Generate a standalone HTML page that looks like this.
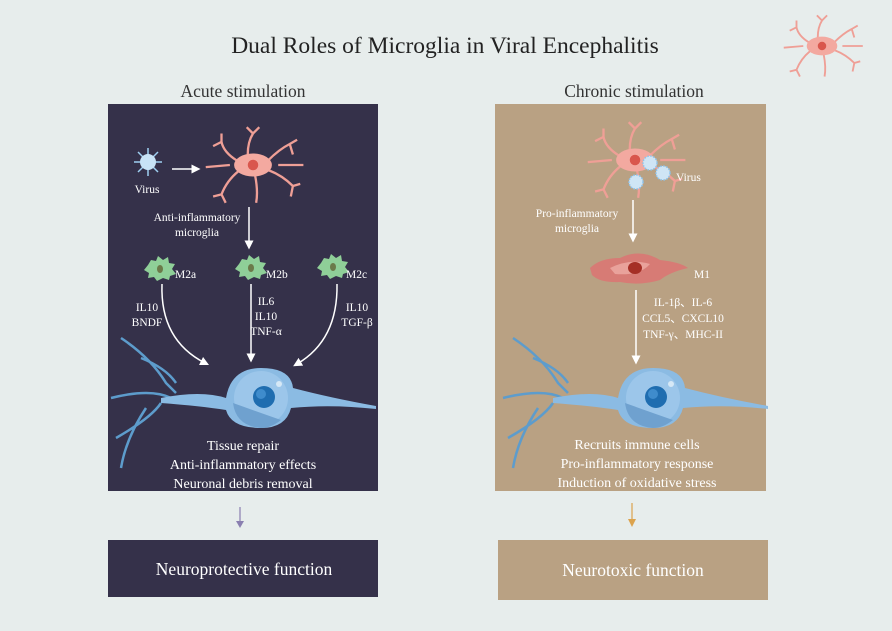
<!DOCTYPE html>
<html><head><meta charset="utf-8"><style>
body{margin:0;background:#e7edec;}
svg{display:block;font-family:"Liberation Serif",serif;}
</style></head><body>
<svg width="892" height="631" viewBox="0 0 892 631" xmlns="http://www.w3.org/2000/svg">
<defs>
<marker id="aw" markerWidth="6" markerHeight="6" refX="3" refY="3" orient="auto" markerUnits="strokeWidth"><path d="M0,0 L6,3 L0,6 z" fill="#fff"/></marker>
<g id="neuron">
 <path d="M-140,-60 Q-110,-40 -95,-15 L-85,-5 M-150,0 Q-110,-10 -90,0 M-145,40 Q-110,20 -100,5 M-140,70 Q-135,40 -115,10 M-120,-40 Q-95,-30 -85,-15" stroke="#5d9ccc" stroke-width="2.5" fill="none"/>
 <path d="M-100,0 Q-60,-8 -35,0 Q-30,-30 0,-30 Q30,-30 32,-10 Q70,0 115,8 L115,11 Q70,6 30,10 Q25,30 0,30 Q-30,30 -35,12 Q-60,8 -100,5 z" fill="#8bbbe3"/>
 <circle cx="0" cy="0" r="27" fill="#9cc6ea"/>
 <path d="M-28,5 Q0,15 20,22 Q10,30 0,30 Q-25,28 -28,5z" fill="#6fa1cf"/>
 <circle cx="3" cy="-1" r="11" fill="#1f6db0"/>
 <circle cx="0" cy="-4" r="5" fill="#3f8ccc"/>
 <circle cx="18" cy="-14" r="3" fill="#d6e8f6"/>
</g>
<g id="mg">
 <path d="M-15,-4 Q-28,-12 -30,-22 M-30,-22 L-38,-18 M-30,-22 L-30,-30 M-5,-10 Q-5,-22 0,-30 M0,-30 L-6,-36 M0,-30 L6,-36 M14,-4 Q25,-15 35,-20 M35,-20 L42,-24 M35,-20 L38,-10 M15,5 Q28,10 38,20 M38,20 L45,18 M38,20 L36,30 M-14,6 Q-25,15 -30,28 M-30,28 L-38,30 M-30,28 L-26,36 M2,10 Q5,25 3,36 M-22,0 L-45,2 M24,0 L48,0" stroke="#ef9f96" stroke-width="2.2" fill="none"/>
 <ellipse cx="0" cy="0" rx="18" ry="11" fill="#f3a9a0"/>
 <circle cx="0" cy="0" r="5" fill="#d9574d"/>
</g>
<g id="m2">
 <path d="M-12,-4 L-9,-9 L-4,-8 L-2,-13 L3,-9 L8,-12 L9,-6 L15,-5 L12,0 L16,5 L10,7 L9,11 L3,9 L-3,12 L-6,8 L-12,9 L-11,4 L-16,1 z" fill="#8fcf98"/>
 <ellipse cx="0" cy="0" rx="3" ry="4" fill="#6b7a4a"/>
</g>
</defs>
<rect width="892" height="631" fill="#e7edec"/>
<text x="445" y="53" font-size="23.5" text-anchor="middle" fill="#222">Dual Roles of Microglia in Viral Encephalitis</text>
<use href="#mg" transform="translate(822,46) scale(0.85)"/>
<text x="243" y="97" font-size="17.5" text-anchor="middle" fill="#333">Acute stimulation</text>
<text x="634" y="97" font-size="17.5" text-anchor="middle" fill="#333">Chronic stimulation</text>

<rect x="108" y="104" width="270" height="387" fill="#35314a"/>
<rect x="495" y="104" width="271" height="387" fill="#b9a183"/>

<!-- left panel -->
<g stroke="#9fd0f2" stroke-width="1.5"><line x1="148" y1="148" x2="148" y2="176"/><line x1="134" y1="162" x2="162" y2="162"/><line x1="138" y1="152" x2="158" y2="172"/><line x1="158" y1="152" x2="138" y2="172"/></g>
<circle cx="148" cy="162" r="8" fill="#c8e3f6"/>
<text x="147" y="193" font-size="11.5" text-anchor="middle" fill="#fff">Virus</text>
<line x1="172" y1="169" x2="196" y2="169" stroke="#fff" stroke-width="1.5" marker-end="url(#aw)"/>
<use href="#mg" transform="translate(253,165) scale(1.05)"/>
<text x="197" y="221" font-size="11.5" text-anchor="middle" fill="#fff">Anti-inflammatory</text>
<text x="197" y="236" font-size="11.5" text-anchor="middle" fill="#fff">microglia</text>
<line x1="249" y1="207" x2="249" y2="245" stroke="#fff" stroke-width="1.5" marker-end="url(#aw)"/>
<use href="#m2" transform="translate(160,269)"/><text x="175" y="278" font-size="11.5" fill="#fff">M2a</text>
<use href="#m2" transform="translate(251,268)"/><text x="266" y="278" font-size="11.5" fill="#fff">M2b</text>
<use href="#m2" transform="translate(333,267)"/><text x="346" y="278" font-size="11.5" fill="#fff">M2c</text>
<g font-size="11.5" fill="#fff" text-anchor="middle">
<text x="147" y="311">IL10</text><text x="147" y="326">BNDF</text>
<text x="266" y="305">IL6</text><text x="266" y="320">IL10</text><text x="266" y="335">TNF-α</text>
<text x="357" y="311">IL10</text><text x="357" y="326">TGF-β</text>
</g>
<use href="#neuron" transform="translate(261,398)"/>
<path d="M162,284 Q160,340 205,363" stroke="#fff" stroke-width="1.5" fill="none" marker-end="url(#aw)"/>
<line x1="251" y1="284" x2="251" y2="358" stroke="#fff" stroke-width="1.5" marker-end="url(#aw)"/>
<path d="M337,284 Q338,340 297,364" stroke="#fff" stroke-width="1.5" fill="none" marker-end="url(#aw)"/>
<g font-size="14" fill="#fff" text-anchor="middle">
<text x="243" y="450">Tissue repair</text><text x="243" y="469">Anti-inflammatory effects</text><text x="243" y="488">Neuronal debris removal</text>
</g>

<!-- right panel -->
<use href="#mg" transform="translate(635,160) scale(1.05)"/>
<g fill="#cfe5f5" stroke="#8cc3ec" stroke-width="1.5" stroke-dasharray="1.5,1.5">
<circle cx="650" cy="163" r="7"/><circle cx="663" cy="173" r="7"/><circle cx="636" cy="182" r="7"/></g>
<text x="676" y="181" font-size="11.5" fill="#fff">Virus</text>
<text x="577" y="217" font-size="11.5" text-anchor="middle" fill="#fff">Pro-inflammatory</text>
<text x="577" y="232" font-size="11.5" text-anchor="middle" fill="#fff">microglia</text>
<line x1="633" y1="200" x2="633" y2="238" stroke="#fff" stroke-width="1.5" marker-end="url(#aw)"/>
<path d="M590,268 Q600,258 620,258 Q640,248 660,260 Q680,262 688,268 Q670,272 660,280 Q640,286 620,282 Q600,283 592,275 z" fill="#d77b75"/>
<path d="M610,268 Q630,258 650,264 Q640,276 615,274z" fill="#e9a29b"/>
<ellipse cx="635" cy="268" rx="7" ry="6" fill="#a52f26"/>
<text x="694" y="278" font-size="11.5" fill="#fff">M1</text>
<line x1="636" y1="290" x2="636" y2="360" stroke="#fff" stroke-width="1.5" marker-end="url(#aw)"/>
<g font-size="11.5" fill="#fff" text-anchor="middle">
<text x="683" y="306">IL-1β、IL-6</text><text x="683" y="322">CCL5、CXCL10</text><text x="683" y="338">TNF-γ、MHC-II</text>
</g>
<use href="#neuron" transform="translate(653,398)"/>
<g font-size="14" fill="#fff" text-anchor="middle">
<text x="637" y="449">Recruits immune cells</text><text x="637" y="468">Pro-inflammatory response</text><text x="637" y="487">Induction of oxidative stress</text>
</g>

<!-- bottom -->
<line x1="240" y1="507" x2="240" y2="522" stroke="#8a7fb0" stroke-width="1.2"/><path d="M236,521 L244,521 L240,528z" fill="#8a7fb0"/>
<line x1="632" y1="503" x2="632" y2="520" stroke="#dca34d" stroke-width="1.2"/><path d="M628,519 L636,519 L632,527z" fill="#dca34d"/>
<rect x="108" y="540" width="270" height="57" fill="#35314a"/>
<rect x="498" y="540" width="270" height="60" fill="#b9a183"/>
<text x="244" y="575" font-size="17.5" text-anchor="middle" fill="#fff">Neuroprotective function</text>
<text x="633" y="576" font-size="17.5" text-anchor="middle" fill="#fff">Neurotoxic function</text>
</svg>
</body></html>
